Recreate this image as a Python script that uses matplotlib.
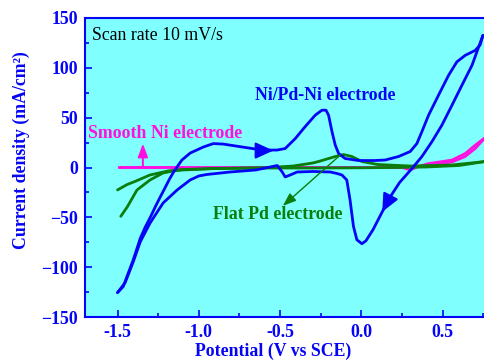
import matplotlib
matplotlib.use("Agg")
import matplotlib.pyplot as plt
from matplotlib.ticker import MultipleLocator

# Ni/Pd-Ni electrode: anodic (forward) and cathodic (reverse) sweeps
nipd_fwd_v = [-1.500, -1.465, -1.403, -1.360, -1.330, -1.297, -1.268, -1.237, -1.205,
              -1.180, -1.155, -1.134, -1.104, -1.053, -0.973, -0.911, -0.850, -0.750,
              -0.650, -0.580, -0.520, -0.469, -0.407, -0.346, -0.284, -0.243, -0.218,
              -0.202, -0.181, -0.161, -0.140, -0.100, -0.018, 0.080, 0.146, 0.228,
              0.300, 0.341, 0.372, 0.413, 0.474, 0.536, 0.587, 0.638, 0.700, 0.730, 0.747]
nipd_fwd_j = [-125.5, -119.5, -92.5, -71.0, -60.0, -49.5, -39.5, -29.5, -19.5,
              -11.5, -4.5, 0.5, 7.5, 14.5, 20.5, 24.0, 23.5, 21.0,
              18.5, 17.5, 17.5, 19.0, 29.0, 41.0, 52.5, 57.5, 57.5,
              52.5, 36.0, 22.5, 14.0, 9.0, 7.0, 7.0, 7.5, 11.0,
              16.0, 24.0, 36.0, 52.5, 72.5, 92.5, 106.0, 112.5, 117.5, 123.0, 132.5]

nipd_rev_v = [0.747, 0.710, 0.680, 0.618, 0.557, 0.495, 0.434, 0.372, 0.311, 0.235,
              0.177, 0.128, 0.071, 0.028, 0.003, -0.028, -0.049, -0.070, -0.090,
              -0.120, -0.151, -0.192, -0.300, -0.395, -0.438, -0.469, -0.487, -0.518,
              -0.561, -0.650, -0.807, -0.950, -1.000, -1.053, -1.133, -1.219, -1.299,
              -1.360, -1.403, -1.453, -1.500]
nipd_rev_j = [132.5, 116.0, 102.5, 82.5, 62.5, 42.5, 26.0, 11.0, -1.0, -15.0,
              -29.5, -44.5, -62.5, -73.5, -76.5, -72.5, -59.0, -32.5, -12.5,
              -7.5, -6.0, -4.5, -4.0, -4.5, -7.5, -9.5, -4.5, 2.0,
              0.5, -2.5, -4.5, -7.0, -8.5, -12.5, -22.5, -35.5, -55.5,
              -74.5, -94.5, -115.5, -125.5]

# Flat Pd electrode
pd_fwd_v = [-1.50, -1.44, -1.40, -1.30, -1.19, -1.10, -0.90, -0.60, -0.42, -0.30,
            -0.264, -0.161, -0.110, -0.058, 0.003, 0.10, 0.30, 0.557, 0.76]
pd_fwd_j = [-22.5, -17.0, -14.5, -7.5, -3.5, -2.0, -1.0, -0.3, 1.5, 4.5,
            6.0, 11.0, 13.0, 11.0, 6.0, 3.0, 1.5, 2.5, 6.0]
pd_rev_v = [0.76, 0.60, 0.40, 0.20, 0.00, -0.30, -0.60, -0.90, -1.10, -1.16,
            -1.22, -1.30, -1.38, -1.44, -1.48]
pd_rev_j = [6.0, 2.0, 0.5, 0.0, -0.3, -0.5, -0.5, -1.0, -2.5, -3.5,
            -5.5, -12.5, -22.5, -39.5, -49.0]

# Smooth Ni electrode
ni_fwd_v = [-1.49, -1.00, -0.50, 0.00, 0.25, 0.30, 0.35, 0.413, 0.557, 0.638, 0.70, 0.761]
ni_fwd_j = [0.0, 0.0, 0.0, 0.0, 0.0, -2.5, 1.0, 4.0, 7.5, 14.0, 22.5, 30.0]
ni_rev_v = [0.761, 0.70, 0.638, 0.557, 0.413, 0.30, 0.00, -0.50, -1.00, -1.49]
ni_rev_j = [30.0, 19.0, 11.0, 5.5, 2.0, 0.0, 0.0, 0.0, 0.0, 0.0]

x_ticks = [-1.5, -1.0, -0.5, 0.0, 0.5]
x_tick_labels = ["-1.5", "-1.0", "-0.5", "0.0", "0.5"]
y_ticks = [-150, -100, -50, 0, 50, 100, 150]

BLUE = "#0505F5"
GREEN = "#0A7D0A"
MAGENTA = "#FF10E0"
CYAN = "#80FFFF"
SERIF = "Liberation Serif"
FS = 12.8

fig = plt.figure(figsize=(4.85, 3.63), dpi=100)
fig.patch.set_facecolor("white")
ax = fig.add_axes([85 / 485, 46 / 363, 406.5 / 485, 299 / 363])
ax.set_facecolor(CYAN)
ax.set_xlim(-1.7, 0.8)
ax.set_ylim(-150, 150)

# curves
ax.plot(ni_fwd_v, ni_fwd_j, color=MAGENTA, lw=1.9, zorder=2, solid_capstyle="round")
ax.plot(ni_rev_v, ni_rev_j, color=MAGENTA, lw=1.9, zorder=2, solid_capstyle="round")
ax.plot(pd_fwd_v, pd_fwd_j, color=GREEN, lw=2.0, zorder=3, solid_capstyle="round")
ax.plot(pd_rev_v, pd_rev_j, color=GREEN, lw=2.0, zorder=3, solid_capstyle="round")
ax.plot(nipd_fwd_v, nipd_fwd_j, color=BLUE, lw=2.0, zorder=4, solid_capstyle="round")
ax.plot(nipd_rev_v, nipd_rev_j, color=BLUE, lw=2.0, zorder=4, solid_capstyle="round")

# sweep direction arrows on the Ni/Pd-Ni curve
ax.annotate("", xy=(-0.541, 17.0), xytext=(-0.60, 17.0),
            arrowprops=dict(arrowstyle="-|>,head_length=1.1,head_width=0.5",
                            color=BLUE, lw=1.5, shrinkA=0, shrinkB=0), zorder=5)
ax.annotate("", xy=(0.128, -44.5), xytext=(0.165, -33.0),
            arrowprops=dict(arrowstyle="-|>,head_length=1.1,head_width=0.5",
                            color=BLUE, lw=1.5, shrinkA=0, shrinkB=0), zorder=5)

# labels with pointers
ax.annotate("", xy=(-1.344, 24.0), xytext=(-1.344, 0.0),
            arrowprops=dict(arrowstyle="-|>,head_length=0.8,head_width=0.3",
                            color=MAGENTA, lw=1.4, shrinkA=0, shrinkB=0), zorder=5)
ax.annotate("", xy=(-0.483, -38.5), xytext=(-0.13, 12.5),
            arrowprops=dict(arrowstyle="-|>,head_length=0.8,head_width=0.3",
                            color=GREEN, lw=1.0, shrinkA=0, shrinkB=0), zorder=5)

ax.text(-1.207, 34.5, "Smooth Ni electrode", color=MAGENTA, fontsize=FS,
        fontweight="bold", family=SERIF, ha="center", va="center", zorder=6)
ax.text(-0.223, 72.5, "Ni/Pd-Ni electrode", color=BLUE, fontsize=FS,
        fontweight="bold", family=SERIF, ha="center", va="center", zorder=6)
ax.text(-0.512, -47.5, "Flat Pd electrode", color=GREEN, fontsize=FS,
        fontweight="bold", family=SERIF, ha="center", va="center", zorder=6)
ax.text(-1.656, 132.5, "Scan rate 10 mV/s", color="black", fontsize=FS,
        family=SERIF, ha="left", va="center", zorder=6)

# axes styling
for side in ("left", "bottom", "top"):
    ax.spines[side].set_color(BLUE)
    ax.spines[side].set_linewidth(1.5)
ax.spines["right"].set_visible(False)

ax.set_xticks(x_ticks)
ax.set_xticklabels(x_tick_labels)
ax.set_yticks(y_ticks)
ax.xaxis.set_minor_locator(MultipleLocator(0.25))
ax.yaxis.set_minor_locator(MultipleLocator(25))
ax.tick_params(which="both", direction="in", color=BLUE, width=1.2,
               top=False, right=False)
ax.tick_params(which="major", length=5, pad=5)
ax.tick_params(which="minor", length=3)
for lab in ax.get_xticklabels() + ax.get_yticklabels():
    lab.set_family(SERIF)
    lab.set_fontweight("bold")
    lab.set_fontsize(FS)
    lab.set_color(BLUE)

ax.set_xlabel("Potential (V vs SCE)", family=SERIF, fontweight="bold",
              fontsize=FS, color=BLUE)
ax.set_ylabel("Current density (mA/cm²)", family=SERIF, fontweight="bold",
              fontsize=FS, color=BLUE)
ax.xaxis.set_label_coords(188.5 / 406.5, -26 / 299)
ax.yaxis.set_label_coords(-55 / 406.5, 167 / 299)

fig.savefig("out.png", dpi=100, facecolor="white")
